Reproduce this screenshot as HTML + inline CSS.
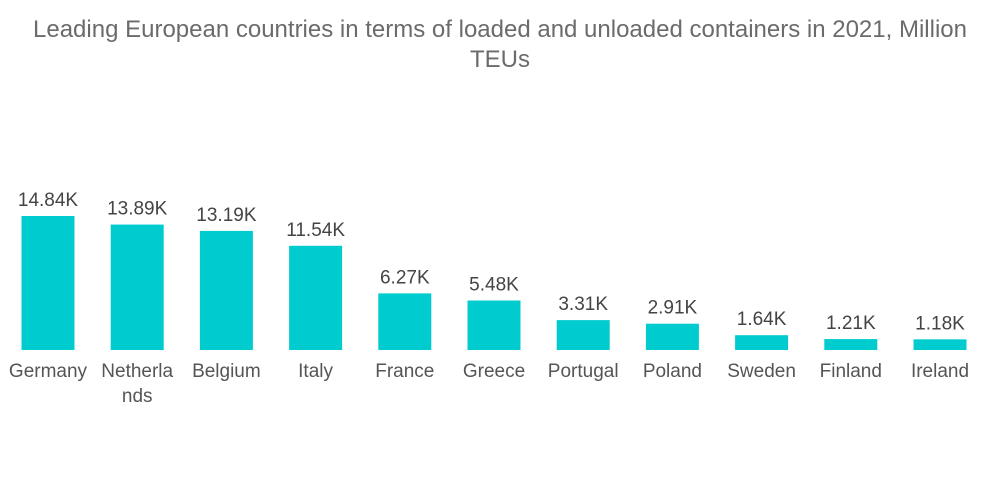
<!DOCTYPE html>
<html><head><meta charset="utf-8"><style>
body{margin:0;background:#fff;width:1000px;height:504px;overflow:hidden;font-family:"Liberation Sans",sans-serif}
#title{position:absolute;top:15px;left:0;width:1000px;text-align:center;font-size:24px;line-height:30px;color:#6b6b6b}
</style></head><body>
<div id="title">Leading European countries in terms of loaded and unloaded containers in 2021, Million<br>TEUs</div>
<svg id="chart" width="1000" height="504" style="position:absolute;top:0;left:0"></svg>
<script>
const categories=["Germany","Netherla|nds","Belgium","Italy","France","Greece","Portugal","Poland","Sweden","Finland","Ireland"];
const values=[14.84,13.89,13.19,11.54,6.27,5.48,3.31,2.91,1.64,1.21,1.18];
const valueLabels=["14.84K","13.89K","13.19K","11.54K","6.27K","5.48K","3.31K","2.91K","1.64K","1.21K","1.18K"];
const svg=document.getElementById('chart');const NS='http://www.w3.org/2000/svg';
const baseY=350,pxPerUnit=9.03,x0=48,step=89.2,bw=53;
const xPos=i=>x0+i*step;const yPos=v=>baseY-v*pxPerUnit;
categories.forEach((c,i)=>{
 const cx=xPos(i),top=yPos(values[i]);
 const r=document.createElementNS(NS,'rect');
 r.setAttribute('x',cx-bw/2);r.setAttribute('y',top);r.setAttribute('width',bw);r.setAttribute('height',baseY-top);r.setAttribute('fill','#00ccd0');
 
 
 svg.appendChild(r);
 const t=document.createElementNS(NS,'text');
 t.setAttribute('x',cx);t.setAttribute('y',top-10);t.setAttribute('text-anchor','middle');t.setAttribute('font-size','19');t.setAttribute('fill','#444');t.setAttribute('font-family','Liberation Sans, sans-serif');
 t.textContent=valueLabels[i];
 
 
 svg.appendChild(t);
 c.split('|').forEach((p,j)=>{
  const l=document.createElementNS(NS,'text');
  l.setAttribute('x',cx);l.setAttribute('y',377+j*25);l.setAttribute('text-anchor','middle');l.setAttribute('font-size','19');l.setAttribute('fill','#555');l.setAttribute('font-family','Liberation Sans, sans-serif');
  l.textContent=p;
  
  
  svg.appendChild(l);
 });
});
</script>
</body></html>
